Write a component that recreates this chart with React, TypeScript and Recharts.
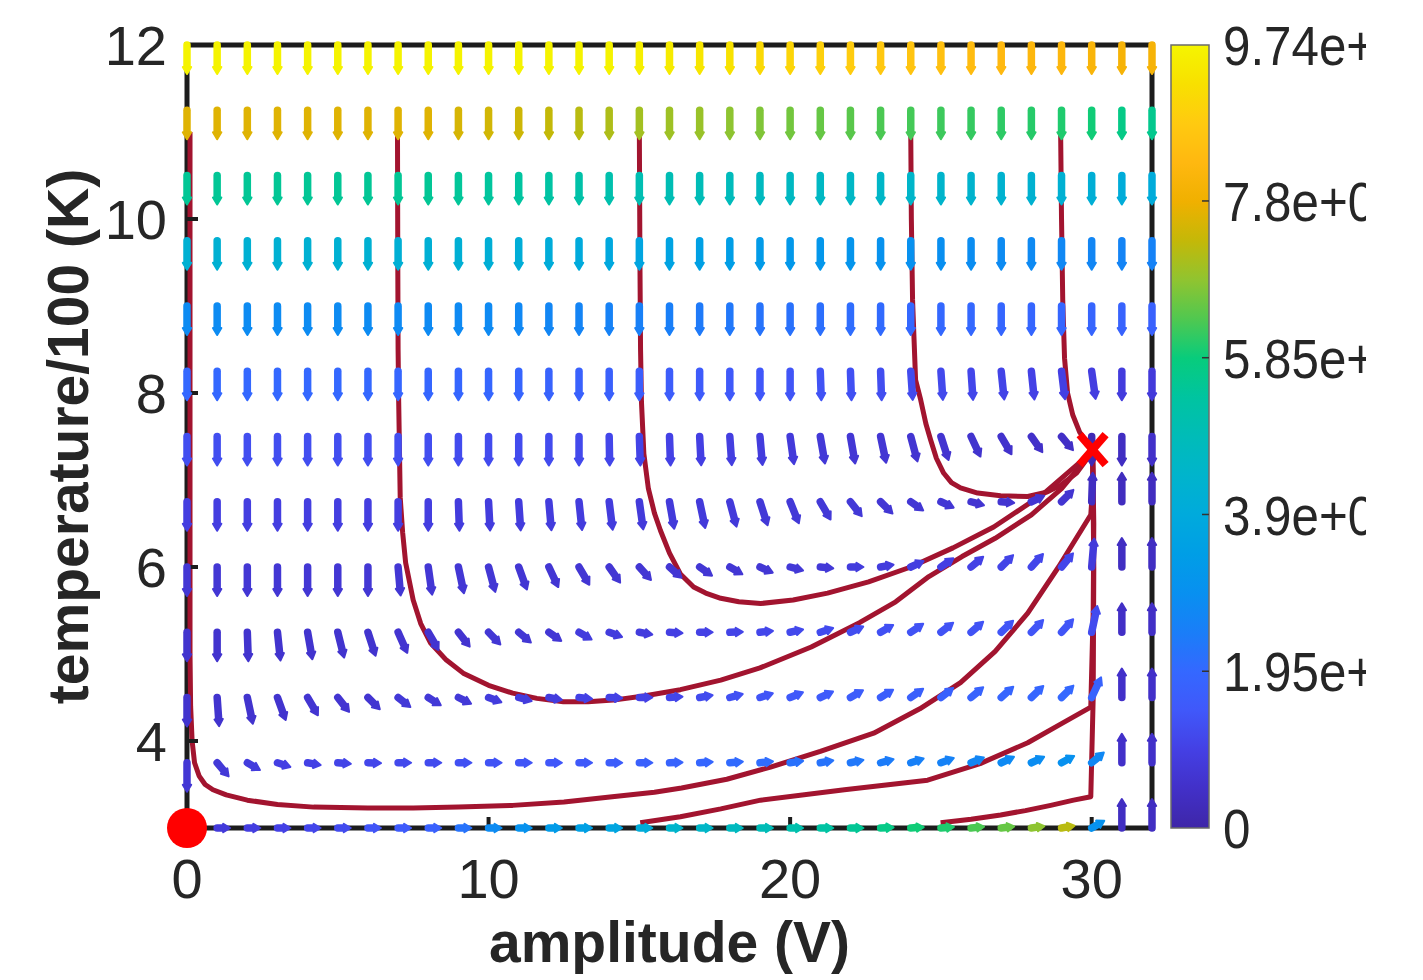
import React from 'react';
import { ComposedChart, XAxis, YAxis, Scatter, Line, ReferenceLine, ReferenceDot, Label } from 'recharts';

// ---------- data ----------
const amplitudes = [0, 1, 2, 3, 4, 5, 6, 7, 8, 9, 10, 11, 12, 13, 14, 15, 16, 17, 18, 19, 20, 21, 22, 23, 24, 25, 26, 27, 28, 29, 30, 31, 32];
const temperatures = [12, 11.25, 10.5, 9.75, 9, 8.25, 7.5, 6.75, 6, 5.25, 4.5, 3.75, 3];

const xTicks = [0, 10, 20, 30];
const yTicks = [4, 6, 8, 10, 12];

// arrow direction on screen (degrees, 0 = right, 90 = up, -90 = down), one row per temperature
const angleRows: number[][] = [
  [-90, -90, -90, -90, -90, -90, -90, -90, -90, -90, -90, -90, -90, -90, -90, -90, -90, -90, -90, -90, -90, -90, -90, -90, -90, -90, -90, -90, -90, -90, -90, -90, -90],
  [-90, -90, -90, -90, -90, -90, -90, -90, -90, -90, -90, -90, -90, -90, -90, -90, -90, -90, -90, -90, -90, -90, -90, -90, -90, -90, -90, -90, -90, -90, -90, -90, -90],
  [-90, -90, -90, -90, -90, -90, -90, -90, -90, -90, -90, -90, -90, -90, -90, -90, -90, -90, -90, -90, -90, -90, -90, -90, -90, -90, -90, -90, -90, -90, -90, -90, -90],
  [-90, -90, -90, -90, -90, -90, -90, -90, -90, -90, -90, -90, -90, -90, -90, -90, -90, -90, -90, -90, -90, -90, -90, -90, -90, -90, -90, -90, -90, -90, -90, -90, -90],
  [-90, -90, -90, -90, -90, -90, -90, -90, -90, -90, -90, -90, -90, -90, -90, -90, -90, -90, -90, -90, -90, -90, -90, -90, -90, -90, -90, -90, -90, -90, -90, -90, -90],
  [-90, -90, -90, -90, -90, -90, -90, -90, -90, -90, -90, -90, -90, -90, -90, -90, -90, -90, -90, -90, -90, -88, -88, -88, -86, -86, -86, -84, -84, -83, -82, -90, -90],
  [-90, -90, -90, -90, -90, -90, -90, -90, -90, -90, -90, -90, -90, -90, -89, -88, -88, -87, -86, -85, -82, -80, -80, -78, -75, -72, -65, -60, -55, -50, -90, -90, -90],
  [-90, -90, -90, -90, -90, -90, -90, -90, -90, -88, -87, -86, -85, -84, -83, -82, -80, -78, -75, -72, -68, -60, -52, -45, -35, -25, -15, -5, 25, 45, 88, 90, 90],
  [-90, -90, -90, -90, -90, -90, -90, -85, -82, -78, -75, -70, -65, -60, -55, -48, -42, -35, -30, -24, -15, -6, 0, 10, 25, 35, 40, 45, 48, 50, 85, 90, 90],
  [-90, -90, -88, -84, -80, -76, -72, -66, -60, -52, -46, -40, -35, -30, -20, -10, -4, 0, 2, 6, 12, 18, 24, 30, 34, 38, 41, 44, 46, 48, 78, 90, 90],
  [-90, -86, -78, -70, -60, -52, -45, -38, -32, -26, -20, -15, -10, -6, -3, 0, 4, 10, 15, 18, 22, 25, 30, 32, 35, 38, 40, 42, 44, 45, 65, 90, 90],
  [-90, -50, -30, -18, -10, -5, -2, 0, 0, 0, 0, 0, 0, 0, 0, 0, 2, 4, 5, 6, 8, 10, 12, 15, 18, 20, 22, 25, 25, 28, 40, 90, 90],
  [0, 0, 0, 0, 0, 0, 0, 0, 0, 0, 0, 0, 0, 0, 0, 0, 0, 0, 0, 0, 0, 0, 0, 3, 4, 5, 6, 7, 8, 10, 30, 90, 90],
];

// arrow magnitude (colour value, 0 .. 9.74), one row per temperature
const magnitudeRows: number[][] = [
  [9.7, 9.7, 9.7, 9.7, 9.7, 9.7, 9.7, 9.7, 9.7, 9.7, 9.7, 9.7, 9.7, 9.7, 9.7, 9.6, 9.5, 9.4, 9.3, 9.1, 9.0, 8.9, 8.8, 8.7, 8.6, 8.5, 8.4, 8.3, 8.2, 8.2, 8.1, 8.0, 8.0],
  [7.6, 7.6, 7.6, 7.6, 7.6, 7.6, 7.6, 7.6, 7.6, 7.5, 7.45, 7.4, 7.3, 7.2, 7.1, 7.0, 6.95, 6.9, 6.8, 6.7, 6.6, 6.5, 6.4, 6.3, 6.25, 6.2, 6.15, 6.1, 6.05, 6.0, 5.9, 5.7, 5.6],
  [5.5, 5.5, 5.5, 5.5, 5.5, 5.5, 5.5, 5.5, 5.5, 5.45, 5.4, 5.35, 5.3, 5.2, 5.1, 5.0, 4.95, 4.9, 4.8, 4.7, 4.65, 4.6, 4.55, 4.5, 4.45, 4.4, 4.35, 4.3, 4.25, 4.2, 4.1, 4.0, 3.95],
  [4.2, 4.2, 4.2, 4.2, 4.2, 4.2, 4.2, 4.15, 4.15, 4.15, 4.1, 4.05, 4.0, 3.9, 3.8, 3.7, 3.6, 3.5, 3.4, 3.3, 3.2, 3.15, 3.1, 3.0, 2.95, 2.9, 2.85, 2.8, 2.75, 2.7, 2.65, 2.6, 2.55],
  [2.8, 2.8, 2.8, 2.8, 2.8, 2.8, 2.8, 2.75, 2.75, 2.75, 2.75, 2.7, 2.65, 2.6, 2.55, 2.5, 2.45, 2.35, 2.3, 2.2, 2.15, 2.1, 2.05, 2.0, 1.95, 1.95, 1.95, 1.9, 1.9, 1.9, 1.85, 1.8, 1.75],
  [1.95, 1.95, 1.95, 1.95, 1.95, 1.95, 1.95, 1.9, 1.9, 1.9, 1.9, 1.85, 1.8, 1.75, 1.7, 1.65, 1.6, 1.55, 1.5, 1.45, 1.4, 1.35, 1.3, 1.25, 1.2, 1.15, 1.1, 1.05, 1.0, 0.95, 0.9, 0.85, 0.8],
  [1.25, 1.25, 1.25, 1.25, 1.25, 1.25, 1.25, 1.25, 1.25, 1.2, 1.2, 1.2, 1.2, 1.15, 1.1, 1.05, 1.0, 0.95, 0.9, 0.85, 0.8, 0.75, 0.7, 0.68, 0.65, 0.62, 0.6, 0.55, 0.5, 0.45, 0.2, 0.4, 0.5],
  [0.9, 0.9, 0.9, 0.9, 0.9, 0.9, 0.9, 0.9, 0.9, 0.85, 0.85, 0.85, 0.85, 0.85, 0.85, 0.8, 0.8, 0.8, 0.8, 0.75, 0.75, 0.75, 0.75, 0.7, 0.7, 0.7, 0.65, 0.65, 0.65, 0.65, 0.4, 0.35, 0.35],
  [0.7, 0.7, 0.7, 0.7, 0.7, 0.7, 0.7, 0.7, 0.7, 0.7, 0.7, 0.68, 0.68, 0.68, 0.68, 0.68, 0.68, 0.7, 0.7, 0.7, 0.75, 0.75, 0.85, 0.85, 0.9, 0.95, 1.0, 1.05, 1.1, 1.1, 0.8, 0.4, 0.4],
  [0.6, 0.6, 0.6, 0.6, 0.6, 0.6, 0.6, 0.62, 0.62, 0.62, 0.7, 0.7, 0.7, 0.85, 0.85, 0.85, 0.95, 1.0, 1.05, 1.1, 1.15, 1.2, 1.25, 1.3, 1.35, 1.35, 1.35, 1.4, 1.4, 1.4, 1.2, 0.45, 0.45],
  [0.6, 0.6, 0.6, 0.6, 0.65, 0.65, 0.65, 0.75, 0.75, 0.75, 0.85, 0.85, 0.85, 1.0, 1.0, 1.0, 1.1, 1.2, 1.3, 1.4, 1.5, 1.55, 1.6, 1.65, 1.7, 1.75, 1.8, 1.85, 1.9, 1.95, 1.8, 0.5, 0.5],
  [0.7, 0.75, 0.85, 0.95, 1.0, 1.05, 1.1, 1.15, 1.2, 1.3, 1.35, 1.4, 1.45, 1.5, 1.6, 1.7, 1.8, 1.9, 2.0, 2.05, 2.15, 2.2, 2.3, 2.4, 2.5, 2.55, 2.65, 2.75, 2.85, 2.95, 2.7, 0.5, 0.5],
  [0.7, 0.8, 0.9, 1.0, 1.1, 1.2, 1.4, 1.55, 1.75, 2.2, 2.8, 3.0, 3.3, 3.5, 3.7, 4.0, 4.4, 4.5, 4.7, 4.9, 5.1, 5.3, 5.5, 5.7, 5.9, 6.0, 6.3, 6.5, 6.8, 7.2, 3.0, 0.4, 0.4],
];

// trajectories [amplitude, temperature]
const trajFromLeftTop = [[0.1, 11.0], [0.1, 9], [0.1, 7], [0.1, 5], [0.12, 4.4], [0.17, 4.0], [0.25, 3.75], [0.4, 3.6], [0.6, 3.5], [0.86, 3.44], [1.3, 3.38], [2.0, 3.32], [3, 3.27], [4.2, 3.24], [6, 3.23], [7.5, 3.23], [9, 3.24], [10.8, 3.26], [12.5, 3.3], [14.1, 3.36], [15.5, 3.41], [16.4, 3.46], [17.9, 3.56], [19.35, 3.7], [21, 3.88], [22.77, 4.09], [24.3, 4.37], [25.65, 4.67], [26.8, 5.03], [27.88, 5.47], [28.9, 6.0], [29.97, 6.6], [30.05, 7.0], [30.03, 7.33]];
const trajFromA7 = [[6.98, 11.0], [6.99, 9.5], [7.0, 8.5], [7.02, 7.9], [7.07, 6.8], [7.15, 6.4], [7.25, 6.05], [7.5, 5.62], [7.75, 5.35], [8.07, 5.13], [8.6, 4.93], [9.16, 4.78], [10.0, 4.64], [10.8, 4.55], [11.6, 4.49], [12.48, 4.45], [13.3, 4.45], [14.14, 4.47], [15.2, 4.52], [16.36, 4.59], [17.7, 4.7], [19.0, 4.84], [20.7, 5.08], [22.3, 5.36], [23.5, 5.6], [24.6, 5.89], [25.7, 6.12], [26.8, 6.33], [28.0, 6.6], [29.0, 6.9], [30.03, 7.33]];
const trajFromA15 = [[15.0, 11.0], [15.02, 9.5], [15.04, 8.5], [15.07, 7.9], [15.15, 7.3], [15.3, 6.9], [15.5, 6.62], [15.7, 6.42], [16.0, 6.16], [16.36, 5.92], [16.8, 5.77], [17.2, 5.7], [17.7, 5.64], [18.3, 5.6], [19.02, 5.58], [20.1, 5.62], [21.24, 5.7], [22.6, 5.83], [24.0, 6.0], [25.4, 6.22], [26.75, 6.46], [28.4, 6.84], [30.03, 7.33]];
const trajFromA24 = [[24.0, 11.0], [24.02, 10], [24.06, 9.07], [24.16, 8.15], [24.33, 7.92], [24.5, 7.65], [24.66, 7.46], [24.85, 7.25], [25.09, 7.08], [25.35, 6.97], [25.65, 6.91], [26.22, 6.85], [26.98, 6.82], [27.88, 6.81], [28.5, 6.86], [28.97, 6.94], [29.5, 7.08], [30.03, 7.33]];
const trajFromA29 = [[28.97, 11.0], [29.0, 10], [29.04, 9.07], [29.1, 8.4], [29.2, 8.0], [29.37, 7.75], [29.6, 7.55], [29.8, 7.45], [30.03, 7.33]];
const trajFromBottom15 = [[15.03, 3.06], [16.36, 3.13], [17.7, 3.22], [19.02, 3.32], [21.8, 3.44], [24.56, 3.55], [26.3, 3.74], [27.88, 3.98], [29.0, 4.2], [29.97, 4.39], [30.05, 5.5], [30.07, 6.5], [30.03, 7.33]];
const trajFromBottom25 = [[24.99, 3.06], [26.0, 3.1], [26.98, 3.15], [27.8, 3.2], [28.64, 3.26], [29.4, 3.32], [29.97, 3.36], [30.05, 4.5], [30.07, 6.0], [30.03, 7.33]];
const trajectories = [trajFromLeftTop, trajFromA7, trajFromA15, trajFromA24, trajFromA29, trajFromBottom15, trajFromBottom25];

const stablePoint = [{ x: 30.03, y: 7.35 }];
const startPoint = { x: 0, y: 3 };

const colorbarValues = [0, 1.95, 3.9, 5.85, 7.8, 9.74];
const colorbarLabels = ['0', '1.95e+03', '3.9e+03', '5.85e+03', '7.8e+03', '9.74e+03'];
const colorMax = 9.74;

// parula-like colormap
const cmapStops: [number, string][] = [
  [0.0, '#3e26a8'], [0.05, '#4230c8'], [0.1, '#4440e4'], [0.15, '#4058fa'], [0.2, '#3468ff'],
  [0.25, '#1a7ef8'], [0.3, '#0890f0'], [0.35, '#009ee6'], [0.4, '#00aadc'], [0.45, '#00b4cc'],
  [0.5, '#00bcb8'], [0.55, '#00c4a0'], [0.6, '#08cc7c'], [0.65, '#50c850'], [0.7, '#90c430'],
  [0.75, '#c4b808'], [0.8, '#f0b000'], [0.85, '#ffb810'], [0.9, '#ffca10'], [0.95, '#f8e000'], [1.0, '#f5f500'],
];

// ---------- helpers ----------
function hexToRgb(h: string) {
  return [parseInt(h.slice(1, 3), 16), parseInt(h.slice(3, 5), 16), parseInt(h.slice(5, 7), 16)];
}
function colorFor(v: number) {
  const f = Math.max(0, Math.min(1, v / colorMax));
  for (let i = 1; i < cmapStops.length; i++) {
    if (f <= cmapStops[i][0]) {
      const [f0, c0] = cmapStops[i - 1];
      const [f1, c1] = cmapStops[i];
      const t = (f - f0) / (f1 - f0);
      const a = hexToRgb(c0), b = hexToRgb(c1);
      const r = a.map((q, k) => Math.round(q + (b[k] - q) * t));
      return `rgb(${r[0]},${r[1]},${r[2]})`;
    }
  }
  return cmapStops[cmapStops.length - 1][1];
}

const arrowData: { x: number; y: number; angle: number; mag: number }[] = [];
temperatures.forEach((t, i) => {
  amplitudes.forEach((a, j) => {
    arrowData.push({ x: a, y: t, angle: angleRows[i][j], mag: magnitudeRows[i][j] });
  });
});

const FONT = "'Liberation Sans', Arial, Helvetica, sans-serif";
const TEXT = '#262626';
const AXIS = '#1c1c1c';
const TRAJ = '#a2142f';

// arrow glyph size (pixels): horizontal / vertical half-axes of the normalised length ellipse
const ARROW_H = 13;
const ARROW_V = 29;

function ArrowShape(props: any) {
  const { cx, cy } = props;
  const p = props.payload || props;
  if (cx == null || cy == null) return null;
  const th = (p.angle * Math.PI) / 180;
  const c = Math.cos(th), s = Math.sin(th);
  const r = (ARROW_H * ARROW_V) / Math.sqrt((ARROW_V * c) ** 2 + (ARROW_H * s) ** 2);
  const ux = c, uy = -s;
  const tx = cx + ux * r, ty = cy + uy * r;
  const hl = 7, hw = 4.2;
  const bx = tx - ux * hl, by = ty - uy * hl;
  const px = -uy, py = ux;
  const col = colorFor(p.mag);
  return (
    <g>
      <line x1={cx} y1={cy} x2={bx} y2={by} stroke={col} strokeWidth={7.5} strokeLinecap="round" />
      <polygon
        points={`${tx},${ty} ${bx + px * hw},${by + py * hw} ${bx - px * hw},${by - py * hw}`}
        fill={col}
        stroke={col}
        strokeWidth={2}
        strokeLinejoin="round"
      />
    </g>
  );
}

function CrossShape(props: any) {
  const { cx, cy } = props;
  if (cx == null) return null;
  return (
    <g stroke="#ff0000" strokeWidth={8} strokeLinecap="butt">
      <line x1={cx - 13} y1={cy - 15} x2={cx + 13} y2={cy + 15} />
      <line x1={cx - 13} y1={cy + 15} x2={cx + 13} y2={cy - 15} />
    </g>
  );
}

function XTick(props: any) {
  const { x, y, payload } = props;
  return (
    <text x={x} y={y} dy="0.72em" textAnchor="middle" fontSize={56} fill={TEXT} fontFamily={FONT}>
      {payload.value}
    </text>
  );
}
function YTick(props: any) {
  const { x, y, payload } = props;
  return (
    <text x={x} y={y} dy="0.36em" textAnchor="end" fontSize={56} fill={TEXT} fontFamily={FONT}>
      {payload.value}
    </text>
  );
}

const boxSegments = [
  [{ x: 0, y: 12 }, { x: 32, y: 12 }],
  [{ x: 32, y: 12 }, { x: 32, y: 3 }],
  [{ x: 0, y: 3 }, { x: 32, y: 3 }],
  [{ x: 0, y: 3 }, { x: 0, y: 12 }],
];

function Colorbar() {
  const top = 45, bottom = 828, left = 1171, width = 38;
  const h = bottom - top;
  const yFor = (v: number) => bottom - (v / colorMax) * h;
  return (
    <svg width={1366} height={980} style={{ position: 'absolute', left: 0, top: 0, pointerEvents: 'none' }}>
      <defs>
        <linearGradient id="parulaGrad" x1="0" y1="1" x2="0" y2="0">
          {cmapStops.map(([f, c]) => (
            <stop key={f} offset={f} stopColor={c} />
          ))}
        </linearGradient>
      </defs>
      <rect x={left} y={top} width={width} height={h} fill="url(#parulaGrad)" stroke="#6b6b6b" strokeWidth={1.5} />
      {colorbarValues.map((v, i) => (
        <g key={v}>
          {i > 0 && i < colorbarValues.length - 1 && (
            <line x1={left + width - 7} x2={left + width} y1={yFor(v)} y2={yFor(v)} stroke="#333" strokeWidth={1.5} />
          )}
          <text
            transform={`translate(1223, ${yFor(v)}) scale(0.88, 1)`}
            x={0}
            y={0}
            dy="0.36em"
            fontSize={56}
            fill={TEXT}
            fontFamily={FONT}
          >
            {colorbarLabels[i]}
          </text>
        </g>
      ))}
    </svg>
  );
}

export default function App() {
  return (
    <div style={{ position: 'absolute', left: 0, top: 0, width: 1423, height: 980, background: '#fff', fontFamily: FONT, overflow: 'hidden' }}>
      <ComposedChart width={1423} height={980} margin={{ top: 44, right: 270, bottom: 0, left: 0 }}>
        <XAxis
          xAxisId={0}
          dataKey="x"
          type="number"
          domain={[0, 32]}
          ticks={xTicks}
          interval={0}
          height={152}
          axisLine={false}
          tickLine={{ stroke: AXIS, strokeWidth: 4 }}
          tickSize={-11}
          tickMargin={41}
          tick={<XTick />}
        >
          <Label value="amplitude (V)" position="insideBottom" offset={18} fontSize={57} fontWeight="bold" fill={TEXT} fontFamily={FONT} />
        </XAxis>
        <XAxis
          xAxisId="top"
          orientation="top"
          type="number"
          domain={[0, 32]}
          ticks={xTicks}
          interval={0}
          height={1}
          axisLine={false}
          tickLine={{ stroke: AXIS, strokeWidth: 4 }}
          tickSize={-11}
          tick={false}
        />
        <YAxis
          yAxisId={0}
          dataKey="y"
          type="number"
          domain={[3, 12]}
          ticks={yTicks}
          interval={0}
          width={187}
          axisLine={false}
          tickLine={{ stroke: AXIS, strokeWidth: 4 }}
          tickSize={-11}
          tickMargin={31}
          tick={<YTick />}
        >
          <Label
            value="temperature/100 (K)"
            position="insideLeft"
            angle={-90}
            offset={68}
            textAnchor="middle"
            fontSize={57}
            fontWeight="bold"
            fill={TEXT}
            fontFamily={FONT}
          />
        </YAxis>
        <YAxis
          yAxisId="right"
          orientation="right"
          type="number"
          domain={[3, 12]}
          ticks={yTicks}
          interval={0}
          width={1}
          axisLine={false}
          tickLine={{ stroke: AXIS, strokeWidth: 4 }}
          tickSize={-11}
          tick={false}
        />

        {boxSegments.map((seg, i) => (
          <ReferenceLine key={`box${i}`} segment={seg} stroke={AXIS} strokeWidth={5} strokeLinecap="square" ifOverflow="visible" />
        ))}

        <Scatter data={arrowData} shape={ArrowShape} isAnimationActive={false} />

        {trajectories.map((tr, i) => (
          <Line
            key={`traj${i}`}
            data={tr.map(([x, y]) => ({ x, y }))}
            dataKey="y"
            type="linear"
            stroke={TRAJ}
            strokeWidth={5}
            dot={false}
            activeDot={false}
            isAnimationActive={false}
            strokeLinejoin="round"
          />
        ))}

        <Scatter data={stablePoint} shape={CrossShape} isAnimationActive={false} />
        <ReferenceDot x={startPoint.x} y={startPoint.y} r={20} fill="#ff0000" stroke="none" ifOverflow="visible" />
      </ComposedChart>
      <Colorbar />
    </div>
  );
}
